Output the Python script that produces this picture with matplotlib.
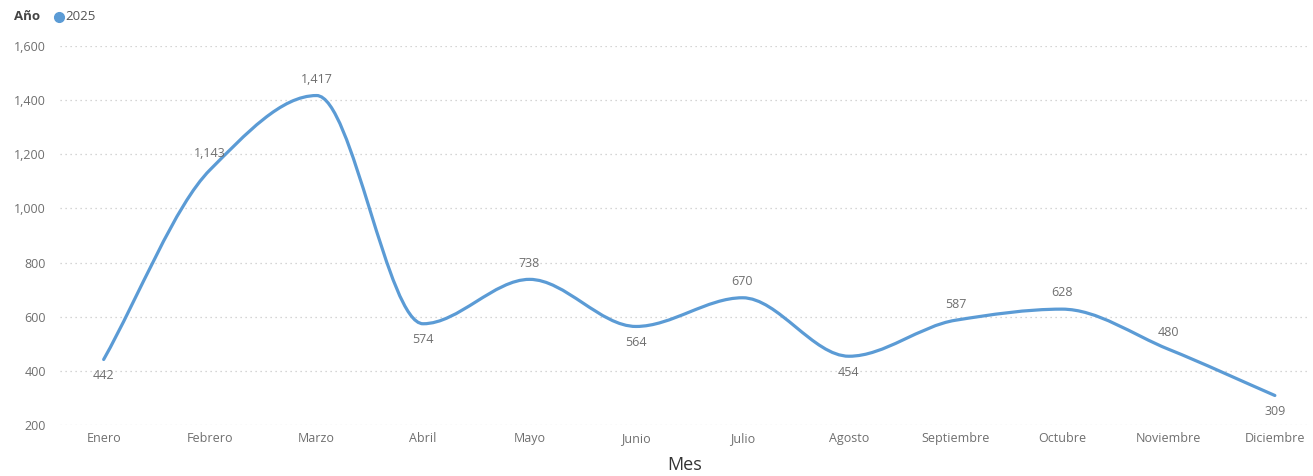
import numpy as np
import matplotlib.pyplot as plt
from matplotlib.path import Path
from matplotlib.patches import PathPatch

meses = ["Enero", "Febrero", "Marzo", "Abril", "Mayo", "Junio", "Julio",
         "Agosto", "Septiembre", "Octubre", "Noviembre", "Diciembre"]
valores = [442, 1143, 1417, 574, 738, 564, 670, 454, 587, 628, 480, 309]
# label position relative to the point: 1 above, -1 below
lado = [-1, 1, 1, -1, 1, -1, 1, -1, 1, 1, 1, -1]

LINE = "#5B9BD5"
GRAY = "#6f6f6f"

plt.rcParams["font.family"] = ["Open Sans", "DejaVu Sans"]


def monotone_path(x, y):
    # monotone cubic (Fritsch-Carlson) as bezier segments
    x = np.asarray(x, float)
    y = np.asarray(y, float)
    h = np.diff(x)
    d = np.diff(y) / h
    m = np.zeros_like(y)
    m[0] = d[0]
    m[-1] = d[-1]
    for i in range(1, len(y) - 1):
        if d[i - 1] * d[i] <= 0:
            m[i] = 0
        else:
            m[i] = 2 / (1 / d[i - 1] + 1 / d[i])
    verts = [(x[0], y[0])]
    codes = [Path.MOVETO]
    for i in range(len(h)):
        verts += [(x[i] + h[i] / 3, y[i] + m[i] * h[i] / 3),
                  (x[i + 1] - h[i] / 3, y[i + 1] - m[i + 1] * h[i] / 3),
                  (x[i + 1], y[i + 1])]
        codes += [Path.CURVE4] * 3
    return Path(verts, codes)


fig = plt.figure(figsize=(13.13, 4.76), dpi=100)
ax = fig.add_axes([60 / 1313, 1 - 425 / 476, 1250 / 1313, 379 / 476])

xs = np.arange(len(meses))
ax.add_patch(PathPatch(monotone_path(xs, valores), facecolor="none",
                       edgecolor=LINE, linewidth=2.3, capstyle="round"))

for i, v in enumerate(valores):
    off = 7 if lado[i] > 0 else -7
    ax.annotate(f"{v:,}", (xs[i], v), xytext=(0, off), textcoords="offset points",
                ha="center", va="bottom" if lado[i] > 0 else "top",
                fontsize=9, color=GRAY)

ax.set_xlim(-0.41, 11.33)
ax.set_ylim(200, 1600)
ax.set_yticks(range(200, 1601, 200))
ax.yaxis.set_major_formatter(plt.FuncFormatter(lambda v, p: f"{int(v):,}"))
ax.set_xticks(xs)
ax.set_xticklabels(meses)
ax.tick_params(axis="both", length=0, labelsize=9, labelcolor=GRAY)
ax.tick_params(axis="y", pad=10)
ax.tick_params(axis="x", pad=5)
ax.grid(axis="y", linestyle=(0, (1, 3)), color="#c8c8c8", linewidth=0.9)
ax.set_axisbelow(True)
for s in ax.spines.values():
    s.set_visible(False)

ax.set_xlabel("Mes", fontsize=13, color="#333333", labelpad=8)

fig.text(14 / 1313, 1 - 17 / 476, "Año", fontsize=9.5, fontweight="bold",
         color="#444444", va="center", ha="left")
fig.add_artist(plt.Line2D([59 / 1313], [1 - 17 / 476], marker="o", markersize=7,
                          color=LINE, transform=fig.transFigure))
fig.text(65 / 1313, 1 - 17 / 476, "2025", fontsize=9.5, color="#555555",
         va="center", ha="left")

fig.savefig("out.png", dpi=100)
